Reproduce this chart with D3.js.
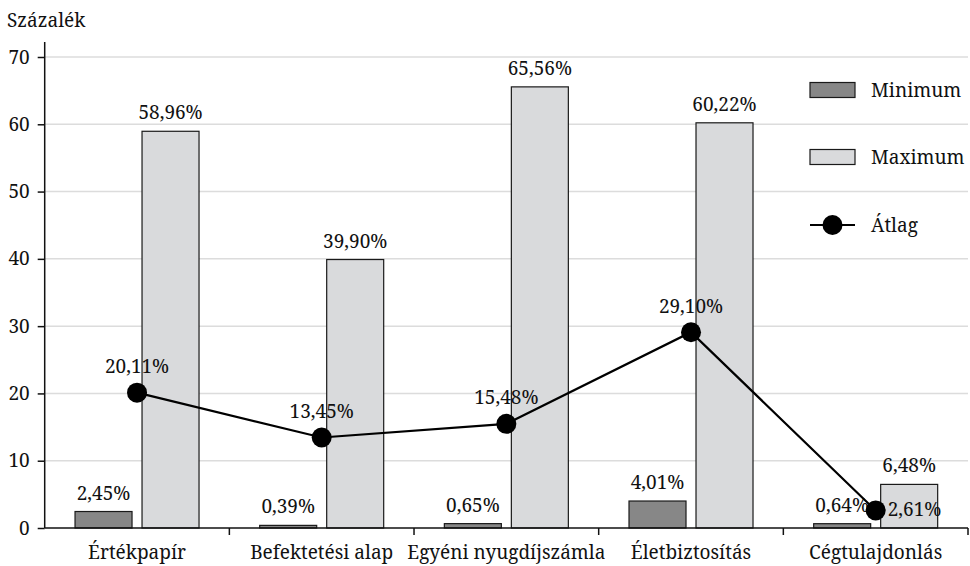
<!DOCTYPE html>
<html>
<head>
<meta charset="utf-8">
<script src="https://cdn.jsdelivr.net/npm/d3@7"></script>
<style>
  html, body { margin: 0; padding: 0; background: #fff; }
  svg { display: block; }
</style>
</head>
<body>
<div id="chart"></div>
<script>
// Categories and series (percent)
const categories = ["Értékpapír", "Befektetési alap", "Egyéni nyugdíjszámla", "Életbiztosítás", "Cégtulajdonlás"];
const minimumValues = [2.45, 0.39, 0.65, 4.01, 0.64];
const maximumValues = [58.96, 39.90, 65.56, 60.22, 6.48];
const averageValues = [20.11, 13.45, 15.48, 29.10, 2.61];
const yTicks = [0, 10, 20, 30, 40, 50, 60, 70];
const seriesNames = ["Minimum", "Maximum", "Átlag"];
const yTitle = "Százalék";

const W = 970, H = 566;
const plotLeft = 44.7, plotRight = 968, plotTop = 57, plotBottom = 528;
const FONT = "'Noto Serif', 'Liberation Serif', serif";
const fontSize = 19;
const ink = "#111";

const fmt = v => v.toFixed(2).replace(".", ",") + "%";

const svg = d3.select("#chart").append("svg").attr("width", W).attr("height", H)
  .style("font-family", FONT);

const x = d3.scaleBand().domain(categories).range([plotLeft, plotRight]);
const y = d3.scaleLinear().domain([0, 70]).range([plotBottom, plotTop]);

const barW = 57, gap = 10;
const colMin = "#878787", colMax = "#d9dadc", edge = "#1a1a1a";

// Horizontal gridlines (behind the bars)
svg.append("g").selectAll("line").data(yTicks.filter(d => d > 0)).join("line")
  .attr("x1", plotLeft).attr("x2", plotRight)
  .attr("y1", d => y(d)).attr("y2", d => y(d))
  .attr("stroke", "#dcdcdc").attr("stroke-width", 1.5);

// Bars
const groups = svg.append("g").selectAll("g").data(categories).join("g")
  .attr("transform", d => `translate(${x(d) + x.bandwidth() / 2},0)`);

groups.append("rect")
  .attr("x", -gap / 2 - barW)
  .attr("y", (d, i) => y(minimumValues[i]))
  .attr("width", barW)
  .attr("height", (d, i) => y(0) - y(minimumValues[i]))
  .attr("fill", colMin).attr("stroke", edge).attr("stroke-width", 1.2);

groups.append("rect")
  .attr("x", gap / 2)
  .attr("y", (d, i) => y(maximumValues[i]))
  .attr("width", barW)
  .attr("height", (d, i) => y(0) - y(maximumValues[i]))
  .attr("fill", colMax).attr("stroke", edge).attr("stroke-width", 1.2);

// Axes
const yAxis = d3.axisLeft(y).tickValues(yTicks).tickSize(7).tickPadding(8);
const yG = svg.append("g").attr("transform", `translate(${plotLeft},0)`).call(yAxis);
yG.select(".domain").remove();
yG.selectAll("line").attr("stroke", ink).attr("stroke-width", 1.5);
svg.append("line").attr("x1", plotLeft).attr("x2", plotLeft).attr("y1", 42).attr("y2", plotBottom)
  .attr("stroke", ink).attr("stroke-width", 1.5);

const xAxis = d3.axisBottom(x).tickSize(0).tickPadding(18);
const xG = svg.append("g").attr("transform", `translate(0,${plotBottom})`).call(xAxis);
xG.select(".domain").remove();
svg.append("line").attr("x1", plotLeft).attr("x2", plotRight).attr("y1", plotBottom).attr("y2", plotBottom)
  .attr("stroke", ink).attr("stroke-width", 1.5);
// Band separators below the axis
svg.append("g").selectAll("line").data(categories).join("line")
  .attr("x1", d => x(d) + x.bandwidth())
  .attr("x2", d => x(d) + x.bandwidth())
  .attr("y1", plotBottom).attr("y2", plotBottom + 7)
  .attr("stroke", ink).attr("stroke-width", 1.5);

[yG, xG].forEach(g => g.attr("font-family", null).attr("font-size", null)
  .selectAll("text").attr("fill", ink));

// Bar value labels
groups.append("text")
  .attr("x", -gap / 2 - barW / 2)
  .attr("y", (d, i) => y(minimumValues[i]) - 12)
  .attr("text-anchor", "middle")
  .text((d, i) => fmt(minimumValues[i]));

groups.append("text")
  .attr("x", gap / 2 + barW / 2)
  .attr("y", (d, i) => y(maximumValues[i]) - 12)
  .attr("text-anchor", "middle")
  .text((d, i) => fmt(maximumValues[i]));

// Average line with markers
const cx = (d, i) => x(categories[i]) + x.bandwidth() / 2;
const line = d3.line().x((d, i) => cx(d, i)).y(d => y(d));
svg.append("path").datum(averageValues).attr("d", line)
  .attr("fill", "none").attr("stroke", "#000").attr("stroke-width", 2.2);
svg.append("g").selectAll("circle").data(averageValues).join("circle")
  .attr("cx", cx).attr("cy", d => y(d)).attr("r", 10).attr("fill", "#000");

const last = averageValues.length - 1;
svg.append("g").selectAll("text").data(averageValues).join("text")
  .attr("x", (d, i) => i === last ? cx(d, i) + 12 : cx(d, i))
  .attr("y", (d, i) => i === last ? y(d) + 6 : y(d) - 19.5)
  .attr("text-anchor", (d, i) => i === last ? "start" : "middle")
  .text(d => fmt(d));

// Axis title
svg.append("text").attr("x", 7).attr("y", 27).text(yTitle);

// Legend
const lg = svg.append("g");
const ly = [90, 157, 225];
lg.append("rect").attr("x", 810).attr("y", ly[0] - 7.5).attr("width", 45).attr("height", 15)
  .attr("fill", colMin).attr("stroke", edge).attr("stroke-width", 1.2);
lg.append("rect").attr("x", 810).attr("y", ly[1] - 7.5).attr("width", 45).attr("height", 15)
  .attr("fill", colMax).attr("stroke", edge).attr("stroke-width", 1.2);
lg.append("line").attr("x1", 810).attr("x2", 855).attr("y1", ly[2]).attr("y2", ly[2])
  .attr("stroke", "#000").attr("stroke-width", 2.2);
lg.append("circle").attr("cx", 832.5).attr("cy", ly[2]).attr("r", 10).attr("fill", "#000");
lg.selectAll("text").data(seriesNames).join("text")
  .attr("x", 871).attr("y", (d, i) => ly[i] + 7).text(d => d);

// Shared typography for every label
svg.selectAll("text")
  .style("font-family", FONT)
  .style("font-size", fontSize + "px")
  .style("fill", ink);
</script>
</body>
</html>
